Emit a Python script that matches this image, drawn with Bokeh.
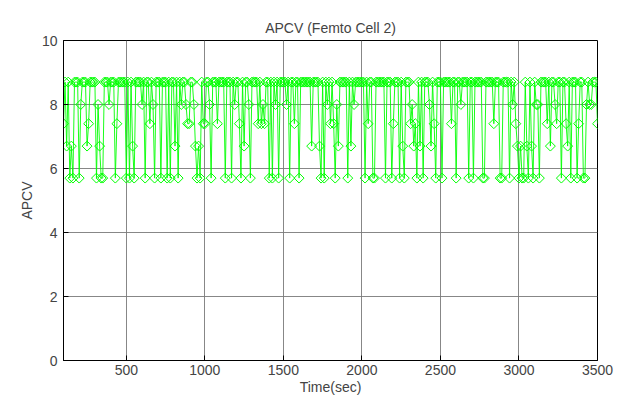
import numpy as np
from bokeh.plotting import figure
from bokeh.models import Range1d, FixedTicker, ColumnDataSource
from bokeh.embed import file_html
from bokeh.resources import INLINE

title_text = "APCV (Femto Cell 2)"
x_label = "Time(sec)"
y_label = "APCV"
x_ticks = [500, 1000, 1500, 2000, 2500, 3000, 3500]
y_ticks = [0, 2, 4, 6, 8, 10]

t_start = 100
t_step = 10

apcv = [
    7.4, 8.7, 6.7, 8.7, 5.7, 6.7, 5.7, 8.7, 8.7, 8.7,
    5.7, 8.0, 8.7, 8.7, 8.7, 6.7, 7.4, 8.7, 8.7, 8.7,
    8.7, 5.7, 8.0, 6.7, 5.7, 5.7, 8.7, 8.7, 8.7, 8.0,
    8.7, 8.7, 8.7, 5.7, 7.4, 8.7, 8.7, 8.7, 8.7, 8.7,
    5.7, 8.7, 5.7, 8.7, 6.7, 5.7, 8.7, 8.7, 8.7, 8.7,
    8.0, 8.7, 5.7, 8.7, 8.7, 7.4, 8.7, 8.0, 5.7, 8.7,
    8.7, 8.7, 5.7, 8.7, 8.7, 8.7, 5.7, 8.7, 5.7, 8.7,
    8.7, 6.7, 8.7, 5.7, 8.7, 8.0, 8.7, 8.7, 8.0, 7.4,
    7.4, 8.7, 8.7, 8.0, 6.7, 5.7, 6.7, 5.7, 8.7, 7.4,
    7.4, 8.7, 8.7, 8.0, 5.7, 8.7, 8.7, 8.7, 7.4, 8.7,
    8.7, 8.7, 8.7, 5.7, 8.7, 8.7, 8.7, 5.7, 8.7, 8.0,
    8.7, 8.7, 7.4, 5.7, 8.7, 6.7, 8.7, 8.7, 8.0, 5.7,
    8.7, 8.7, 8.7, 8.7, 7.4, 8.7, 7.4, 8.0, 7.4, 8.7,
    8.7, 5.7, 8.7, 5.7, 8.7, 8.0, 8.7, 5.7, 8.7, 8.7,
    8.7, 8.7, 8.0, 8.7, 5.7, 8.7, 8.7, 7.4, 8.7, 8.7,
    5.7, 8.7, 8.7, 8.7, 8.7, 8.7, 8.7, 8.7, 6.7, 8.7,
    8.7, 8.7, 8.7, 6.7, 5.7, 8.7, 5.7, 8.7, 8.0, 8.7,
    7.4, 8.7, 7.4, 5.7, 8.0, 6.7, 8.7, 8.7, 8.7, 8.7,
    8.7, 5.7, 8.7, 6.7, 8.7, 8.0, 8.7, 8.7, 8.7, 8.7,
    8.7, 8.7, 5.7, 8.7, 7.4, 8.7, 8.7, 5.7, 5.7, 8.7,
    8.7, 8.7, 8.7, 8.7, 8.7, 5.7, 8.7, 8.7, 8.7, 5.7,
    7.4, 8.7, 8.7, 8.7, 5.7, 8.7, 6.7, 5.7, 8.7, 8.7,
    8.7, 7.4, 8.0, 6.7, 7.4, 5.7, 8.7, 6.7, 8.7, 5.7,
    8.7, 8.7, 8.7, 8.0, 6.7, 8.7, 7.4, 5.7, 8.7, 8.7,
    8.7, 5.7, 8.7, 8.7, 8.7, 8.7, 8.7, 7.4, 8.7, 8.7,
    5.7, 8.7, 8.7, 8.0, 8.7, 8.7, 8.7, 8.7, 5.7, 8.7,
    8.7, 5.7, 8.7, 8.7, 8.7, 8.7, 8.7, 5.7, 5.7, 8.7,
    8.7, 8.7, 8.7, 8.7, 7.4, 8.7, 8.7, 8.7, 5.7, 5.7,
    8.7, 8.7, 8.7, 8.7, 5.7, 8.7, 8.0, 8.7, 7.4, 6.7,
    5.7, 6.7, 5.7, 5.7, 8.7, 6.7, 5.7, 8.7, 6.7, 5.7,
    8.7, 8.0, 8.0, 5.7, 8.7, 8.7, 8.7, 8.7, 7.4, 8.7,
    6.7, 8.7, 8.7, 8.0, 7.4, 8.7, 8.7, 5.7, 8.7, 8.7,
    7.4, 6.7, 8.7, 5.7, 8.7, 8.7, 8.7, 5.7, 7.4, 8.7,
    8.7, 5.7, 5.7, 8.0, 8.7, 8.0, 8.0, 8.7, 8.7, 8.7,
    7.4,
]

time_sec = [t_start + i * t_step for i in range(len(apcv))]

src = ColumnDataSource(data=dict(t=time_sec, v=apcv))

FONT = "Liberation Sans"

p = figure(width=622, height=397, output_backend="svg", toolbar_location=None,
           x_range=Range1d(100, 3500), y_range=Range1d(0, 10),
           min_border_left=63, min_border_right=25, min_border_top=40, min_border_bottom=35)

p.title.text = title_text
p.title.align = "center"
p.title.text_font = FONT
p.title.text_font_size = "14px"
p.title.text_font_style = "normal"
p.title.offset = -6

p.outline_line_color = "black"
p.outline_line_width = 1
p.outline_line_alpha = 1

for ax in (p.xaxis[0], p.yaxis[0]):
    ax.axis_line_color = "black"
    ax.major_tick_in = 5
    ax.major_tick_out = 0
    ax.minor_tick_line_color = None
    ax.major_label_text_font = FONT
    ax.major_label_text_font_size = "14px"
    ax.axis_label_text_font = FONT
    ax.axis_label_text_font_size = "14px"
    ax.axis_label_text_font_style = "normal"

p.xaxis.ticker = FixedTicker(ticks=x_ticks)
p.yaxis.ticker = FixedTicker(ticks=y_ticks)
p.xaxis.axis_label = x_label
p.yaxis.axis_label = y_label
p.xaxis.major_label_standoff = 4
p.xaxis.axis_label_standoff = 1
p.yaxis.major_label_standoff = 6
p.yaxis.axis_label_standoff = 4

p.xgrid.ticker = FixedTicker(ticks=x_ticks)
p.ygrid.ticker = FixedTicker(ticks=y_ticks)
p.grid.grid_line_color = "#7a7a7a"
p.grid.grid_line_alpha = 0.9
p.grid.grid_line_width = 1

p.line("t", "v", source=src, line_color="#00FF00", line_width=1, line_alpha=0.9)
p.scatter("t", "v", source=src, marker="square", angle=np.pi / 4, size=7,
          fill_color=None, line_color="#00FF00", line_width=1)

open("out.html", "w").write(file_html(p, INLINE))
